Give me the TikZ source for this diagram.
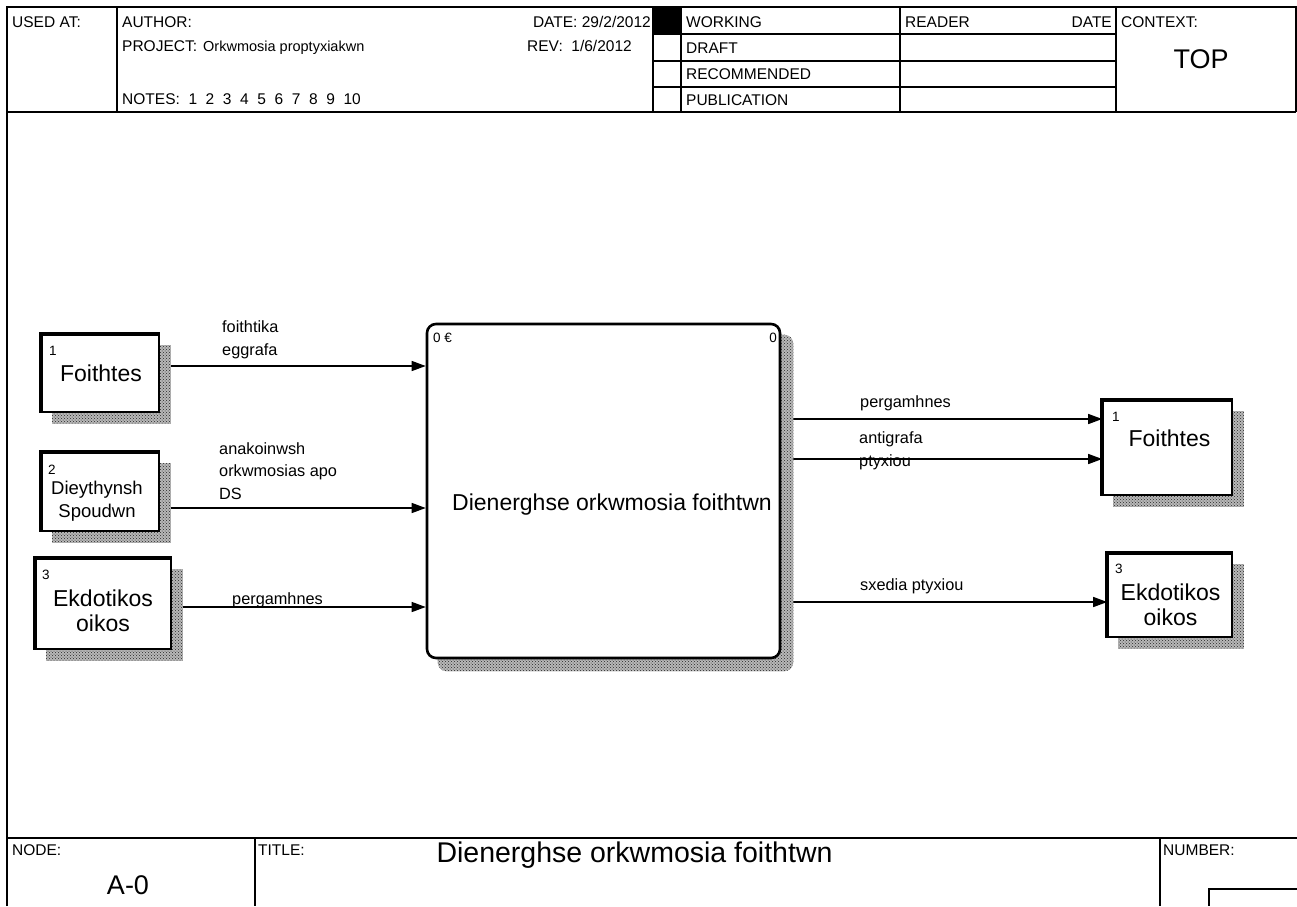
\documentclass[tikz,border=0pt]{standalone}
\usepackage{fontspec}
\setmainfont{Liberation Sans}
\usetikzlibrary{arrows.meta,patterns}
\pgfdeclarelayer{flowlayer}
\pgfdeclarelayer{shadelayer}
\pgfsetlayers{flowlayer,shadelayer,main}
\newcommand{\fsz}[2]{\fontsize{#1}{#2}\selectfont}
\begin{document}
\begin{tikzpicture}[x=1pt,y=-1pt,
  frameline/.style={line width=2pt},
  gridline/.style={line width=1.3pt},
  lbl/.style={inner sep=0pt, anchor=base west, font=\fsz{15.5}{18}},
  extbox/.style={draw, fill=white, line width=1.6pt, inner sep=0pt},
  thickedge/.style={line width=4.5pt},
  procbox/.style={draw, fill=white, line width=2.6pt, rounded corners=9pt, inner sep=0pt},
  shadowfill/.style={fill=black!28, postaction={pattern=crosshatch dots, pattern color=black!85}},
  boxtext/.style={inner sep=0pt, align=center, font=\fsz{23}{25}},
  numtext/.style={inner sep=0pt, anchor=base west, font=\fsz{13.5}{15}},
  flowtext/.style={inner sep=0pt, anchor=base west, align=left, font=\fsz{16.3}{22.5}},
  flow/.style={line width=1.3pt, -{Triangle[length=14pt,width=10pt]}},
]
\useasboundingbox (0,0) rectangle (1297,906);
\begin{pgfonlayer}{flowlayer}
  \fill[white] (0,0) rectangle (1297,906);
\end{pgfonlayer}

% ---------- form frame and header ----------
\draw[frameline] (7,906) -- (7,7) -- (1296,7) -- (1296,112);
\draw[frameline] (7,112) -- (1296,112);
\draw[gridline] (117,7) -- (117,112);
\draw[gridline] (653,7) -- (653,112);
\draw[gridline] (681,7) -- (681,112);
\draw[gridline] (900,7) -- (900,112);
\draw[gridline] (1116,7) -- (1116,112);
\foreach \yy in {34,61,87} \draw[gridline] (653,\yy) -- (1116,\yy);
\fill[black] (653,7) rectangle (680,33);

\node[lbl] (usedat) at (12,27) {USED AT:};
\node[lbl] (author) at (122,27) {AUTHOR:};
\node[lbl] (project) at (122,51) {PROJECT:};
\node[lbl, font=\fsz{14.5}{16}] (projname) at (203,51) {Orkwmosia proptyxiakwn};
\node[lbl] (notes) at (122,104) {NOTES:~ 1~ 2~ 3~ 4~ 5~ 6~ 7~ 8~ 9~ 10};
\node[lbl, anchor=base east] (date) at (651,27) {DATE: 29/2/2012};
\node[lbl] (rev) at (527,51) {REV:~ 1/6/2012};
\node[lbl] (working) at (686,27) {WORKING};
\node[lbl] (draft) at (686,53) {DRAFT};
\node[lbl] (recom) at (686,79) {RECOMMENDED};
\node[lbl] (public) at (686,105) {PUBLICATION};
\node[lbl] (reader) at (905,27) {READER};
\node[lbl, anchor=base east] (rdate) at (1112,27) {DATE};
\node[lbl] (context) at (1121,27) {CONTEXT:};
\node[inner sep=0pt, anchor=base, font=\fsz{27}{30}] (top) at (1201,68) {TOP};

% ---------- footer ----------
\draw[frameline] (7,838) -- (1297,838);
\draw[gridline] (255,838) -- (255,906);
\draw[gridline] (1160,838) -- (1160,906);
\draw[gridline] (1297,889) -- (1209,889) -- (1209,906);
\node[lbl] (nodelbl) at (12,855) {NODE:};
\node[inner sep=0pt, anchor=base, font=\fsz{27}{30}] (nodeid) at (128,894) {A-0};
\node[lbl] (titlelbl) at (258,855) {TITLE:};
\node[inner sep=0pt, anchor=base, font=\fsz{28.5}{32}] (title) at (634.5,862) {Dienerghse orkwmosia foithtwn};
\node[lbl] (numlbl) at (1163,855) {NUMBER:};

% ---------- activity box ----------
\node[procbox, minimum width=353pt, minimum height=334pt] (proc) at (603.5,491) {};
\node[boxtext] (proctext) at (612,505) {Dienerghse orkwmosia foithtwn};
\node[numtext] (procnum) at (433,342) {0 €};
\node[numtext, anchor=base east] (procid) at (777,342) {0};

% ---------- external entities ----------
\node[extbox, minimum width=117pt, minimum height=77pt] (f1) at (100.5,373.5) {};
\node[extbox, minimum width=117pt, minimum height=78pt] (d2) at (100.5,492) {};
\node[extbox, minimum width=135pt, minimum height=90pt] (e3) at (103.5,604) {};
\node[extbox, minimum width=129pt, minimum height=94pt] (r1) at (1167.5,448) {};
\node[extbox, minimum width=124pt, minimum height=83pt] (r3) at (1170,595.5) {};
\foreach \b in {f1,d2,e3,r1,r3}
  \draw[thickedge] (\b.south west) -- (\b.north west) -- (\b.north east);

\node[boxtext] (f1text) at (101,373) {Foithtes};
\node[boxtext, font=\fsz{18.5}{23}] (d2text) at (97,501) {Dieythynsh\\Spoudwn};
\node[boxtext] (e3text) at (103,610.5) {Ekdotikos\\oikos};
\node[boxtext] (r1text) at (1169.5,438) {Foithtes};
\node[boxtext] (r3text) at (1170.5,605) {Ekdotikos\\oikos};
\node[numtext] (f1num) at (49,355) {1};
\node[numtext] (d2num) at (48,474) {2};
\node[numtext] (e3num) at (42,579) {3};
\node[numtext] (r1num) at (1112,421) {1};
\node[numtext] (r3num) at (1115,573) {3};

% ---------- drop shadows ----------
\begin{pgfonlayer}{shadelayer}
  \foreach \b in {f1,d2,e3,r1,r3}
    \fill[shadowfill] ([xshift=11pt,yshift=-11pt]\b.south west) rectangle ([xshift=11pt,yshift=-11pt]\b.north east);
  \fill[shadowfill, rounded corners=9pt] ([xshift=12pt,yshift=-12pt]proc.south west) rectangle ([xshift=12pt,yshift=-12pt]proc.north east);
\end{pgfonlayer}

% ---------- flows ----------
\coordinate (yin1) at (0,366);
\coordinate (yin2) at (0,508);
\coordinate (yin3) at (0,607);
\coordinate (yout1) at (0,419);
\coordinate (yout2) at (0,459);
\coordinate (yout3) at (0,602);
\begin{pgfonlayer}{flowlayer}
  \draw[flow] (f1.east |- yin1) -- (proc.west |- yin1);
  \draw[flow] (d2.east |- yin2) -- (proc.west |- yin2);
  \draw[flow] (e3.east |- yin3) -- (proc.west |- yin3);
  \draw[flow] (proc.east |- yout1) -- (r1.west |- yout1);
  \draw[flow] (proc.east |- yout2) -- (r1.west |- yout2);
  \draw[flow] (proc.east |- yout3) -- (r3.west |- yout3);
\end{pgfonlayer}

% multi-line labels are placed by the baseline of their last line
\node[flowtext] (lin1) at (222,355) {foithtika\\eggrafa};
\node[flowtext] (lin2) at (219,499) {anakoinwsh\\orkwmosias apo\\DS};
\node[flowtext] (lin3) at (232,604) {pergamhnes};
\node[flowtext] (lout1) at (860,407) {pergamhnes};
\node[flowtext] (lout2) at (859,466) {antigrafa\\ptyxiou};
\node[flowtext] (lout3) at (860,590) {sxedia ptyxiou};
\end{tikzpicture}
\end{document}
